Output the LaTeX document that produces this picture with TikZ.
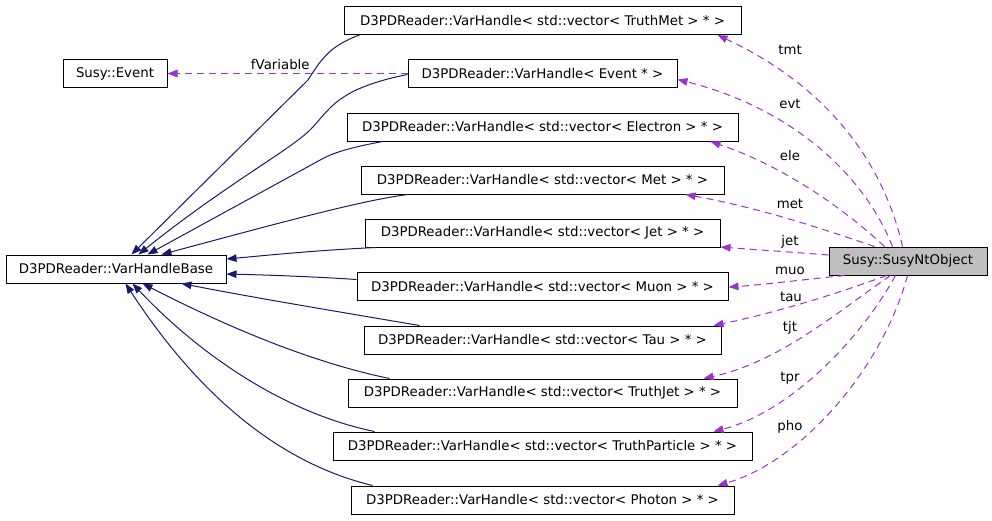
\documentclass[tikz,border=0pt]{standalone}
\usepackage{fontspec}
\setmainfont{DejaVu Sans}
\usetikzlibrary{arrows.meta,calc}
\definecolor{inhblue}{HTML}{191970}
\definecolor{usepurple}{HTML}{9A32CD}
\begin{document}
\begin{tikzpicture}[x=1pt,y=-1pt,
  box/.style={draw=black, line width=1pt, inner sep=0pt, minimum height=28pt, font=\fontsize{13.33}{16}\selectfont, anchor=center},
  inh/.style={draw=inhblue, line width=1pt, -{Triangle[length=10pt,width=7.5pt]}},
  use/.style={draw=usepurple, line width=1pt, dash pattern=on 7pt off 5pt, -{Triangle[length=10pt,width=7.5pt]}},
  lab/.style={font=\fontsize{13.33}{16}\selectfont, inner sep=0pt}]
\useasboundingbox (0,0) rectangle (992,520);
% nodes
\node[box, minimum width=220pt] (base) at (116,269) {D3PDReader::VarHandleBase};
\node[box, minimum width=104pt] (sev) at (115,73.5) {Susy::Event};
\node[box, minimum width=158pt, fill={rgb,255:red,191;green,191;blue,191}] (sno) at (908,261) {Susy::SusyNtObject};
\node[box, minimum width=397pt] (tm) at (542.5,20.5) {D3PDReader::VarHandle< std::vector< TruthMet > * >};
\node[box, minimum width=269pt] (ev) at (542.5,73.5) {D3PDReader::VarHandle< Event * >};
\node[box, minimum width=391pt] (el) at (542.5,127) {D3PDReader::VarHandle< std::vector< Electron > * >};
\node[box, minimum width=363pt] (me) at (542.5,180) {D3PDReader::VarHandle< std::vector< Met > * >};
\node[box, minimum width=355pt] (je) at (542.5,233) {D3PDReader::VarHandle< std::vector< Jet > * >};
\node[box, minimum width=371pt] (mu) at (542.5,286.5) {D3PDReader::VarHandle< std::vector< Muon > * >};
\node[box, minimum width=357pt] (ta) at (542.5,340) {D3PDReader::VarHandle< std::vector< Tau > * >};
\node[box, minimum width=389pt] (tj) at (542.5,393) {D3PDReader::VarHandle< std::vector< TruthJet > * >};
\node[box, minimum width=419pt] (tp) at (542.5,446) {D3PDReader::VarHandle< std::vector< TruthParticle > * >};
\node[box, minimum width=383pt] (ph) at (542.5,500) {D3PDReader::VarHandle< std::vector< Photon > * >};
% inheritance edges
\draw[inh] ($(tm.south west)+(16,0)$) .. controls (330,46) and (322,58) .. (308,80) -- ($(base.north west)+(126,0)$);
\draw[inh] ($(ev.west)+(0,1)$) .. controls (335,89) and (330,110) .. (310,130) .. controls (290,150) and (225,185) .. ($(base.north west)+(133,0)$);
\draw[inh] ($(el.south west)+(36,0)$) .. controls (348,148) and (333,153) .. (322,159) -- ($(base.north west)+(142,0)$);
\draw[inh] ($(me.south west)+(47,0)$) .. controls (360,201) and (290,220) .. ($(base.north west)+(156,0)$);
\draw[inh] ($(je.south west)+(12,0)$) .. controls (320,250) and (270,255) .. ($(base.east)+(0,-10)$);
\draw[inh] ($(mu.west)+(0,-7)$) .. controls (320,277) and (270,275) .. ($(base.east)+(0,5)$);
\draw[inh] ($(ta.north west)+(56,0)$) .. controls (340,312) and (250,297) .. ($(base.south west)+(176,0)$);
\draw[inh] ($(tj.north west)+(42,0)$) .. controls (300,360) and (210,318) .. ($(base.south west)+(137,0)$);
\draw[inh] ($(tp.north west)+(42,0)$) .. controls (280,412) and (195,350) .. ($(base.south west)+(127,0)$);
\draw[inh] ($(ph.north west)+(22,0)$) .. controls (275,462) and (195,390) .. ($(base.south west)+(120,0)$);
% usage edges
\draw[use] (ev.west) -- (sev.east) node[lab, pos=0.53, above=3pt] {fVariable};
\draw[use] ($(sno.north west)+(74,0)$) .. controls (885,170) and (835,90) .. ($(tm.south east)+(-24,0)$);
\draw[use] ($(sno.north west)+(64,0)$) .. controls (860,165) and (780,105) .. ($(ev.east)+(0,6)$);
\draw[use] ($(sno.north west)+(56,0)$) .. controls (840,205) and (780,165) .. ($(el.south east)+(-28,0)$);
\draw[use] ($(sno.north west)+(46,0)$) .. controls (820,228) and (760,208) .. ($(me.south east)+(-39,0)$);
\draw[use] ($(sno.west)+(0,-6)$) .. controls (790,252) and (760,250) .. ($(je.east)+(0,14)$);
\draw[use] ($(sno.south west)+(16,0)$) .. controls (800,280) and (760,285) .. ($(mu.east)+(0,0.5)$);
\draw[use] ($(sno.south west)+(58,0)$) .. controls (820,300) and (760,316) .. ($(ta.north east)+(-8,0)$);
\draw[use] ($(sno.south west)+(62,0)$) .. controls (840,310) and (780,362) .. ($(tj.north east)+(-34,0)$);
\draw[use] ($(sno.south west)+(67,0)$) .. controls (860,340) and (790,412) .. ($(tp.north east)+(-39,0)$);
\draw[use] ($(sno.south west)+(79,0)$) .. controls (882,370) and (800,462) .. ($(ph.north east)+(-17,0)$);
% labels
\node[lab] (ltmt) at (790,50) {tmt};
\node[lab] (levt) at (790,104) {evt};
\node[lab] (lele) at (790,156) {ele};
\node[lab] (lmet) at (790,204) {met};
\node[lab] (ljet) at (790,242) {jet};
\node[lab] (lmuo) at (790,271) {muo};
\node[lab] (ltau) at (791,297) {tau};
\node[lab] (ltjt) at (790,328) {tjt};
\node[lab] (ltpr) at (790,378) {tpr};
\node[lab] (lpho) at (790,427) {pho};
\end{tikzpicture}
\end{document}
